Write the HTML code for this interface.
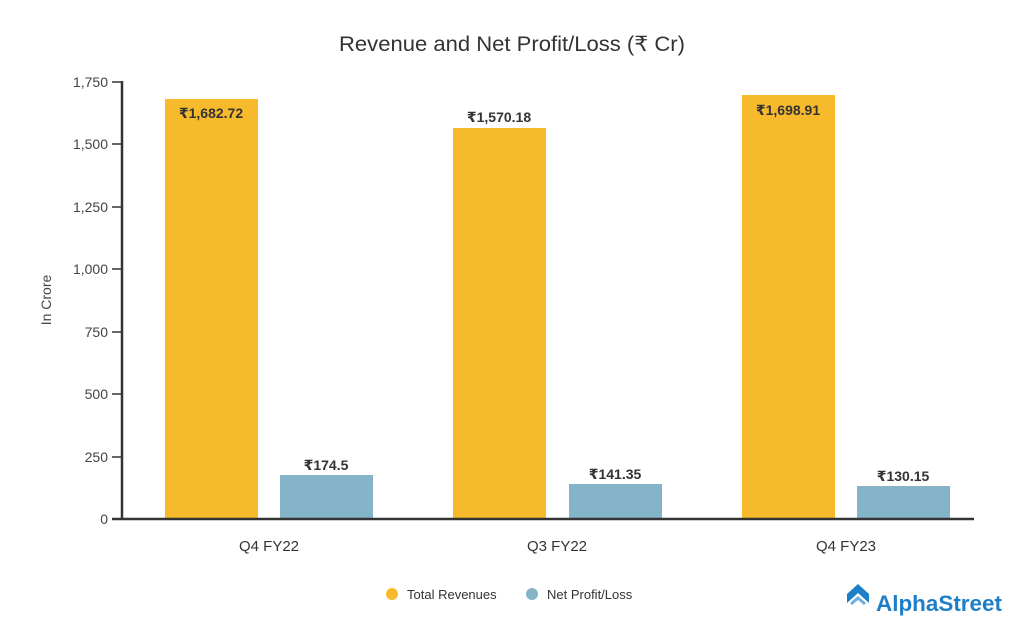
<!DOCTYPE html>
<html><head><meta charset="utf-8"><style>body{margin:0;background:#fff}svg{display:block}text{font-family:"Liberation Sans","DejaVu Sans",sans-serif}</style></head><body>
<svg width="1024" height="640" viewBox="0 0 1024 640">
<text x="512" y="51" font-size="21" fill="#333" text-anchor="middle" textLength="346" lengthAdjust="spacingAndGlyphs">Revenue and Net Profit/Loss (₹ Cr)</text>
<g font-size="14" fill="#444" text-anchor="end">
<text x="108" y="87">1,750</text><text x="108" y="149">1,500</text><text x="108" y="212">1,250</text><text x="108" y="274">1,000</text><text x="108" y="337">750</text><text x="108" y="399">500</text><text x="108" y="462">250</text><text x="108" y="524">0</text>
</g>
<text transform="translate(51,300) rotate(-90)" font-size="14" fill="#444" text-anchor="middle">In Crore</text>
<g stroke="#333" stroke-width="1.5"><line x1="112" y1="82" x2="122" y2="82"/><line x1="112" y1="144" x2="122" y2="144"/><line x1="112" y1="207" x2="122" y2="207"/><line x1="112" y1="269" x2="122" y2="269"/><line x1="112" y1="332" x2="122" y2="332"/><line x1="112" y1="394" x2="122" y2="394"/><line x1="112" y1="457" x2="122" y2="457"/></g>
<line x1="122" y1="81" x2="122" y2="520" stroke="#333" stroke-width="2.5"/>
<g fill="#F7BA2B"><rect x="165" y="99" width="93" height="420"/><rect x="453" y="128" width="93" height="391"/><rect x="742" y="95" width="93" height="424"/></g>
<g fill="#85B4C9"><rect x="280" y="475" width="93" height="44"/><rect x="569" y="484" width="93" height="35"/><rect x="857" y="486" width="93" height="33"/></g>
<line x1="112" y1="519" x2="974" y2="519" stroke="#333" stroke-width="2.5"/>
<g font-size="14" font-weight="bold" fill="#333" text-anchor="middle">
<text x="211" y="118">₹1,682.72</text><text x="499" y="122">₹1,570.18</text><text x="788" y="115">₹1,698.91</text>
<text x="326" y="470">₹174.5</text><text x="615" y="479">₹141.35</text><text x="903" y="481">₹130.15</text>
</g>
<g font-size="15" fill="#333" text-anchor="middle"><text x="269" y="551">Q4 FY22</text><text x="557" y="551">Q3 FY22</text><text x="846" y="551">Q4 FY23</text></g>
<circle cx="392" cy="594" r="6" fill="#F7BA2B"/><text x="407" y="599" font-size="13" fill="#333">Total Revenues</text>
<circle cx="532" cy="594" r="6" fill="#85B4C9"/><text x="547" y="599" font-size="13" fill="#333">Net Profit/Loss</text>
<g transform="translate(847,590)"><path d="M0,4 L11,-6 L22,4 L22,13 L11,3 L0,13Z" fill="#1E7FC8"/><path d="M4,14 L11,8 L18,14" fill="none" stroke="#6FB0E0" stroke-width="3"/></g>
<text x="876" y="611" font-size="22" font-weight="bold" fill="#1E7FC8" textLength="126" lengthAdjust="spacingAndGlyphs">AlphaStreet</text>
</svg>
</body></html>
